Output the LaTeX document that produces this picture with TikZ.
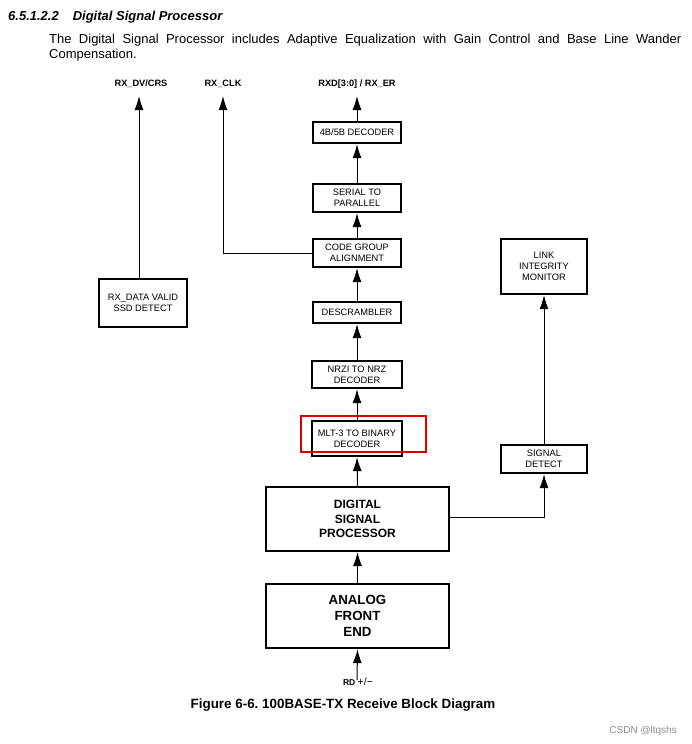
\documentclass[tikz,border=0pt]{standalone}
\usepackage{fontspec}
\setmainfont{Liberation Sans}
\usetikzlibrary{arrows.meta}
\frenchspacing
\begin{document}
\begin{tikzpicture}[x=1pt,y=-1pt,
  blk/.style={draw,line width=2.3pt,inner sep=0pt,align=center,font=\fontsize{9.3}{10.6}\selectfont},
  bigblk/.style={draw,line width=2.3pt,inner sep=0pt,align=center,minimum width=183pt,minimum height=64pt},
  toplbl/.style={inner sep=0pt,font=\bfseries\fontsize{9.2}{11}\selectfont},
  arr/.style={line width=1pt,-{Latex[length=14pt,width=9pt]}}]
\useasboundingbox (0,0) rectangle (691,744);
% heading and text
\node[anchor=base west,inner sep=0pt,font=\bfseries\itshape\fontsize{13}{15}\selectfont] (head) at (8,20) {6.5.1.2.2\hspace{14pt}Digital Signal Processor};
\node[anchor=north west,inner sep=0pt,text width=632pt,align=justify,font=\fontsize{13}{15}\selectfont] (body) at (49,33.5)
 {\hyphenpenalty=10000 The Digital Signal Processor includes Adaptive Equalization with Gain Control and Base Line Wander\linebreak Compensation.};
% top labels
\node[toplbl] (ldv) at (141,84) {RX\_DV/CRS};
\node[toplbl] (lclk) at (223,84) {RX\_CLK};
\node[toplbl] (lrxd) at (357,84) {RXD[3:0] / RX\_ER};
\coordinate (tdv) at (139,96);
\coordinate (tclk) at (223,96);
\coordinate (trxd) at (357,96);
% blocks
\node[blk,minimum width=88pt,minimum height=21pt] (dec) at (357,132.5) {4B/5B DECODER};
\node[blk,minimum width=88pt,minimum height=28pt] (s2p) at (357,198) {SERIAL TO\\PARALLEL};
\node[blk,minimum width=88pt,minimum height=28pt] (cga) at (357,253) {CODE GROUP\\ALIGNMENT};
\node[blk,minimum width=88pt,minimum height=21pt] (desc) at (357,312.5) {DESCRAMBLER};
\node[blk,minimum width=90pt,minimum height=27pt] (nrzi) at (357,374.5) {NRZI TO NRZ\\DECODER};
\node[blk,minimum width=90pt,minimum height=35pt] (mlt) at (357,438.5) {MLT-3 TO BINARY\\DECODER};
\node[blk,minimum width=88pt,minimum height=48pt] (rxdv) at (143,303) {RX\_DATA VALID\\SSD DETECT};
\node[blk,minimum width=86pt,minimum height=55pt,font=\fontsize{9.3}{11.3}\selectfont] (lim) at (544,266.5) {LINK\\INTEGRITY\\MONITOR};
\node[blk,minimum width=86pt,minimum height=28pt] (sd) at (544,459) {SIGNAL\\DETECT};
\node[bigblk,font=\bfseries\fontsize{12}{14.5}\selectfont] (dsp) at (357.5,519) {DIGITAL\\SIGNAL\\PROCESSOR};
\node[bigblk,font=\bfseries\fontsize{13.3}{16}\selectfont] (afe) at (357.5,616) {ANALOG\\FRONT\\END};
% highlight
\node[draw=red!85!black,line width=1.5pt,minimum width=125pt,minimum height=36pt,inner sep=0pt] (hl) at (363.5,434) {};
% input label
\node[anchor=base,inner sep=0pt] (rd) at (358,685) {\bfseries\fontsize{8.5}{9}\selectfont RD \normalfont\fontsize{10.5}{12}\selectfont+/−};
\coordinate (rdin) at (357,680);
\coordinate (dspout) at ([yshift=2pt]dsp.east);
% connectors
\draw[arr] (rxdv.north -| tdv) -- (tdv);
\draw[arr] (cga.west) -- (tclk |- cga.west) -- (tclk);
\draw[arr] (dec.north) -- (trxd);
\draw[arr] (s2p.north) -- (dec.south);
\draw[arr] (cga.north) -- (s2p.south);
\draw[arr] (desc.north) -- (cga.south);
\draw[arr] (nrzi.north) -- (desc.south);
\draw[arr] (mlt.north) -- (nrzi.south);
\draw[arr] (dsp.north) -- (mlt.south);
\draw[arr] (afe.north) -- (dsp.south);
\draw[arr] (rdin) -- (afe.south);
\draw[arr] (dspout) -- (dspout -| sd.south) -- (sd.south);
\draw[arr] (sd.north) -- (lim.south);
% caption
\node[anchor=base,inner sep=0pt,font=\bfseries\fontsize{13.4}{15}\selectfont] (cap) at (343,708) {Figure 6-6. 100BASE-TX Receive Block Diagram};
\node[anchor=base east,inner sep=0pt,text=black!45,font=\fontsize{10}{12}\selectfont] (wm) at (677,733) {CSDN @ltqshs};
\end{tikzpicture}
\end{document}
